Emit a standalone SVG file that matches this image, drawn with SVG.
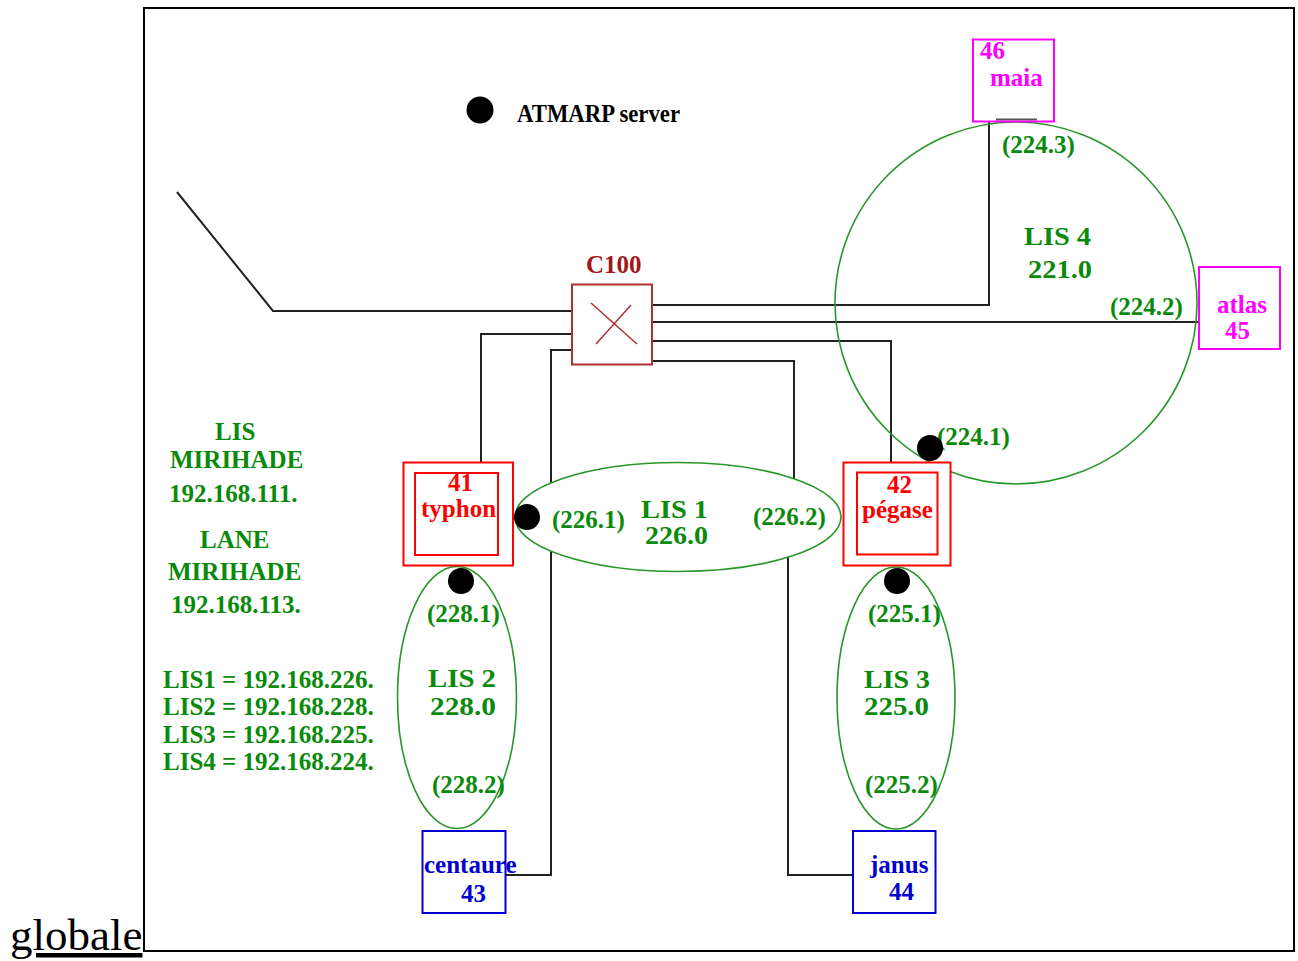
<svg xmlns="http://www.w3.org/2000/svg" width="1298" height="961" viewBox="0 0 1298 961">
<style>
.t{font-family:"Liberation Serif","Times New Roman",serif;font-weight:bold;font-size:25px}
.big{font-size:25px}
.g{fill:#0a8a0a}
.r{fill:#ff0000}
.m{fill:#ff00ff}
.b{fill:#0000d0}
.dr{fill:#a01818}
.wire{fill:none;stroke:#222;stroke-width:2}
.lis{stroke:#2a962a;stroke-width:1.6}
.box{fill:#fff;stroke-width:2}
.dot{fill:#000}
</style>
<rect x="0" y="0" width="1298" height="961" fill="#fff"/>
<rect id="frame" x="144" y="8" width="1150" height="943" fill="none" stroke="#000" stroke-width="2"/>
<text x="10" y="950" font-family="'Liberation Serif','Times New Roman',serif" font-size="45" fill="#000" text-decoration="underline">globale</text>

<g id="connectors">
<polyline class="wire" points="177,192 273,311 572,311"/>
<polyline class="wire" points="572,334 481,334 481,462"/>
<polyline class="wire" points="572,350 551,350 551,875 505,875"/>
<polyline class="wire" points="652,305 989,305 989,122"/>
<polyline class="wire" points="652,322 1198,322"/>
<polyline class="wire" points="652,341 891,341 891,463"/>
<polyline class="wire" points="652,361 794,361 794,517 788,517 788,875 853,875"/>
<line x1="996" y1="119.5" x2="1037" y2="119.5" stroke="#555" stroke-width="2"/>
</g>

<g id="lis4">
<circle cx="1016" cy="303" r="181" fill="none" class="lis"/>
<text class="t g" x="1002" y="153">(224.3)</text>
<text class="t big g" x="1024" y="245" textLength="67" lengthAdjust="spacingAndGlyphs">LIS 4</text>
<text class="t big g" x="1028" y="278" textLength="64" lengthAdjust="spacingAndGlyphs">221.0</text>
<text class="t g" x="1110" y="315">(224.2)</text>
<text class="t g" x="937" y="445">(224.1)</text>
</g>

<g id="lis1">
<ellipse cx="678" cy="517" rx="163" ry="54.5" fill="#fff" class="lis"/>
<text class="t g" x="552" y="528">(226.1)</text>
<text class="t big g" x="641" y="518" textLength="67" lengthAdjust="spacingAndGlyphs">LIS 1</text>
<text class="t big g" x="645" y="544" textLength="63" lengthAdjust="spacingAndGlyphs">226.0</text>
<text class="t g" x="753" y="525">(226.2)</text>
</g>

<g id="lis2">
<ellipse cx="457" cy="697.5" rx="59.5" ry="131" fill="none" class="lis"/>
<text class="t g" x="427" y="622">(228.1)</text>
<text class="t big g" x="428" y="687" textLength="68" lengthAdjust="spacingAndGlyphs">LIS 2</text>
<text class="t big g" x="430" y="715" textLength="66" lengthAdjust="spacingAndGlyphs">228.0</text>
<text class="t g" x="432" y="793">(228.2)</text>
</g>

<g id="lis3">
<ellipse cx="896" cy="698" rx="59" ry="131" fill="none" class="lis"/>
<text class="t g" x="868" y="622">(225.1)</text>
<text class="t big g" x="864" y="688" textLength="66" lengthAdjust="spacingAndGlyphs">LIS 3</text>
<text class="t big g" x="864" y="715" textLength="65" lengthAdjust="spacingAndGlyphs">225.0</text>
<text class="t g" x="865" y="793">(225.2)</text>
</g>

<g id="c100">
<rect class="box" x="572" y="284.5" width="80" height="80" stroke="#b03030"/>
<line x1="591" y1="303" x2="637" y2="344" stroke="#b03030" stroke-width="1.5"/>
<line x1="631" y1="305" x2="596" y2="344" stroke="#b03030" stroke-width="1.5"/>
<text class="t dr" x="586" y="273" font-size="23">C100</text>
</g>

<g id="typhon">
<rect class="box" x="403.5" y="462.5" width="109.5" height="103" stroke="#ff0000"/>
<rect x="415" y="473" width="83" height="82" fill="none" stroke="#ff0000" stroke-width="2"/>
<text class="t r" x="448" y="491">41</text>
<text class="t r" x="421" y="517">typhon</text>
</g>

<g id="pegase">
<rect class="box" x="843.5" y="462.5" width="107" height="103" stroke="#ff0000"/>
<rect x="857" y="472.5" width="80.5" height="82" fill="none" stroke="#ff0000" stroke-width="2"/>
<text class="t r" x="887" y="493">42</text>
<text class="t r" x="862" y="518">pégase</text>
</g>

<g id="centaure">
<rect class="box" x="422.5" y="831" width="83" height="82" stroke="#0000d0"/>
<text class="t b" x="424" y="873">centaure</text>
<text class="t b" x="461" y="902">43</text>
</g>

<g id="janus">
<rect class="box" x="853" y="831" width="82.5" height="82" stroke="#0000d0"/>
<text class="t b" x="870" y="873">janus</text>
<text class="t b" x="889" y="900">44</text>
</g>

<g id="maia">
<rect x="973" y="39.5" width="81" height="82" fill="none" stroke="#ff00ff" stroke-width="2"/>
<text class="t m" x="980" y="59">46</text>
<text class="t m" x="990" y="86">maia</text>
</g>

<g id="atlas">
<rect class="box" x="1199" y="267" width="81" height="82" stroke="#ff00ff"/>
<text class="t m" x="1217" y="313">atlas</text>
<text class="t m" x="1225" y="339">45</text>
</g>

<g id="dots">
<circle class="dot" cx="527" cy="517" r="13"/>
<circle class="dot" cx="461" cy="581" r="13"/>
<circle class="dot" cx="897" cy="581" r="13"/>
<circle class="dot" cx="930" cy="448" r="13"/>
</g>

<g id="legend-atmarp">
<circle class="dot" cx="480" cy="110" r="13.5"/>
<text class="t" x="517" y="122" font-size="20" fill="#000" textLength="163" lengthAdjust="spacingAndGlyphs">ATMARP server</text>
</g>

<g id="legend-addresses">
<text class="t g" x="215" y="440">LIS</text>
<text class="t g" x="170" y="468">MIRIHADE</text>
<text class="t g" x="169" y="502">192.168.111.</text>
<text class="t g" x="200" y="548">LANE</text>
<text class="t g" x="168" y="580">MIRIHADE</text>
<text class="t g" x="171" y="613">192.168.113.</text>
<text class="t g" x="163" y="688">LIS1 = 192.168.226.</text>
<text class="t g" x="163" y="715">LIS2 = 192.168.228.</text>
<text class="t g" x="163" y="743">LIS3 = 192.168.225.</text>
<text class="t g" x="163" y="770">LIS4 = 192.168.224.</text>
</g>
</svg>
